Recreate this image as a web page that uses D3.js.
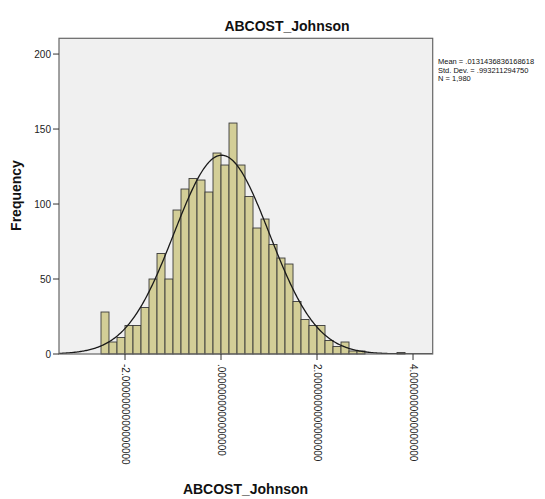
<!DOCTYPE html>
<html>
<head>
<meta charset="utf-8">
<script src="https://cdn.jsdelivr.net/npm/d3@7"></script>
<style>
  html, body { margin: 0; padding: 0; background: #ffffff; }
  svg { display: block; font-family: "Liberation Sans", Arial, sans-serif; }
</style>
</head>
<body>
<svg id="chart" width="545" height="499"></svg>
<script>
// Histogram of ABCOST_Johnson: bins of width 1/6 starting at -2.5
const binStart = -2.5;
const binWidth = 1 / 6;
const counts = [
  28, 8, 11, 19, 19, 31, 50, 67, 50, 96,
  110, 117, 116, 108, 134, 126, 154, 126, 105, 84,
  90, 73, 64, 60, 35, 23, 19, 19, 9, 5,
  8, 2, 2, 0, 0, 0, 0, 1
];
const xTickValues = [-2, 0, 2, 4];
const xTickLabels = ["-2.0000000000000000", ".0000000000000000", "2.0000000000000000", "4.0000000000000000"];
const yTickValues = [0, 50, 100, 150, 200];
const statLines = ["Mean = .0131436836168618", "Std. Dev. = .993211294750", "N = 1,980"];
const mean = 0.0131436836168618;
const stdDev = 0.993211294750;
const nTotal = 1980;
const title = "ABCOST_Johnson";
const yTitle = "Frequency";

const svg = d3.select("#chart");
const plot = { left: 59, right: 432.7, top: 38.3, bottom: 354 };

const x = d3.scaleLinear().domain([-3.375, 4.41]).range([plot.left, plot.right]);
const y = d3.scaleLinear().domain([0, 210.5]).range([plot.bottom, plot.top]);

// plot background
svg.append("rect")
  .attr("x", plot.left).attr("y", plot.top)
  .attr("width", plot.right - plot.left).attr("height", plot.bottom - plot.top)
  .attr("fill", "#f0f0f0");

svg.append("clipPath").attr("id", "plotClip")
  .append("rect")
  .attr("x", plot.left).attr("y", plot.top)
  .attr("width", plot.right - plot.left).attr("height", plot.bottom - plot.top);

const bins = counts.map((c, i) => ({ x0: binStart + i * binWidth, x1: binStart + (i + 1) * binWidth, n: c }))
  .filter(d => d.n > 0);

svg.append("g")
  .selectAll("rect")
  .data(bins)
  .join("rect")
  .attr("x", d => x(d.x0))
  .attr("y", d => y(d.n))
  .attr("width", d => x(d.x1) - x(d.x0))
  .attr("height", d => y(0) - y(d.n))
  .attr("fill", "#d3ce97")
  .attr("stroke", "#3a3a3a")
  .attr("stroke-width", 0.9);

// fitted normal curve scaled to counts
const pdf = v => Math.exp(-0.5 * ((v - mean) / stdDev) ** 2) / (stdDev * Math.sqrt(2 * Math.PI));
const curvePts = d3.range(0, 401).map(i => {
  const v = x.domain()[0] + (x.domain()[1] - x.domain()[0]) * i / 400;
  return [v, nTotal * binWidth * pdf(v)];
});
svg.append("path")
  .attr("clip-path", "url(#plotClip)")
  .attr("d", d3.line().x(d => x(d[0])).y(d => y(d[1]))(curvePts))
  .attr("fill", "none")
  .attr("stroke", "#1a1a1a")
  .attr("stroke-width", 1.3);

// frame
svg.append("rect")
  .attr("x", plot.left).attr("y", plot.top)
  .attr("width", plot.right - plot.left).attr("height", plot.bottom - plot.top)
  .attr("fill", "none")
  .attr("stroke", "#666")
  .attr("stroke-width", 1.2);

// y axis
const yAxis = svg.append("g");
yTickValues.forEach(v => {
  yAxis.append("line")
    .attr("x1", plot.left - 6).attr("x2", plot.left)
    .attr("y1", y(v)).attr("y2", y(v))
    .attr("stroke", "#333").attr("stroke-width", 1);
  yAxis.append("text")
    .attr("x", plot.left - 8).attr("y", y(v)).attr("dy", "0.35em")
    .attr("text-anchor", "end")
    .attr("font-size", 10).attr("fill", "#222")
    .text(v);
});

// x axis
const xAxis = svg.append("g");
xTickValues.forEach((v, i) => {
  xAxis.append("line")
    .attr("x1", x(v)).attr("x2", x(v))
    .attr("y1", plot.bottom).attr("y2", plot.bottom + 6)
    .attr("stroke", "#333").attr("stroke-width", 1);
  xAxis.append("text")
    .attr("transform", `translate(${x(v)},${plot.bottom + 10}) rotate(90)`)
    .attr("dy", "0.35em")
    .attr("text-anchor", "start")
    .attr("font-size", 10).attr("fill", "#222")
    .text(xTickLabels[i]);
});

// titles
svg.append("text")
  .attr("x", 287).attr("y", 31)
  .attr("text-anchor", "middle")
  .attr("font-size", 14).attr("font-weight", "bold").attr("fill", "#111")
  .text(title);

svg.append("text")
  .attr("x", 245.5).attr("y", 494)
  .attr("text-anchor", "middle")
  .attr("font-size", 14).attr("font-weight", "bold").attr("fill", "#111")
  .text(title);

svg.append("text")
  .attr("transform", "translate(21,195.5) rotate(-90)")
  .attr("text-anchor", "middle")
  .attr("font-size", 14).attr("font-weight", "bold").attr("fill", "#111")
  .text(yTitle);

// summary statistics
svg.append("g")
  .selectAll("text")
  .data(statLines)
  .join("text")
  .attr("x", 438)
  .attr("y", (d, i) => 64 + i * 8.5)
  .attr("font-size", 7.5).attr("fill", "#111")
  .text(d => d);
</script>
</body>
</html>
